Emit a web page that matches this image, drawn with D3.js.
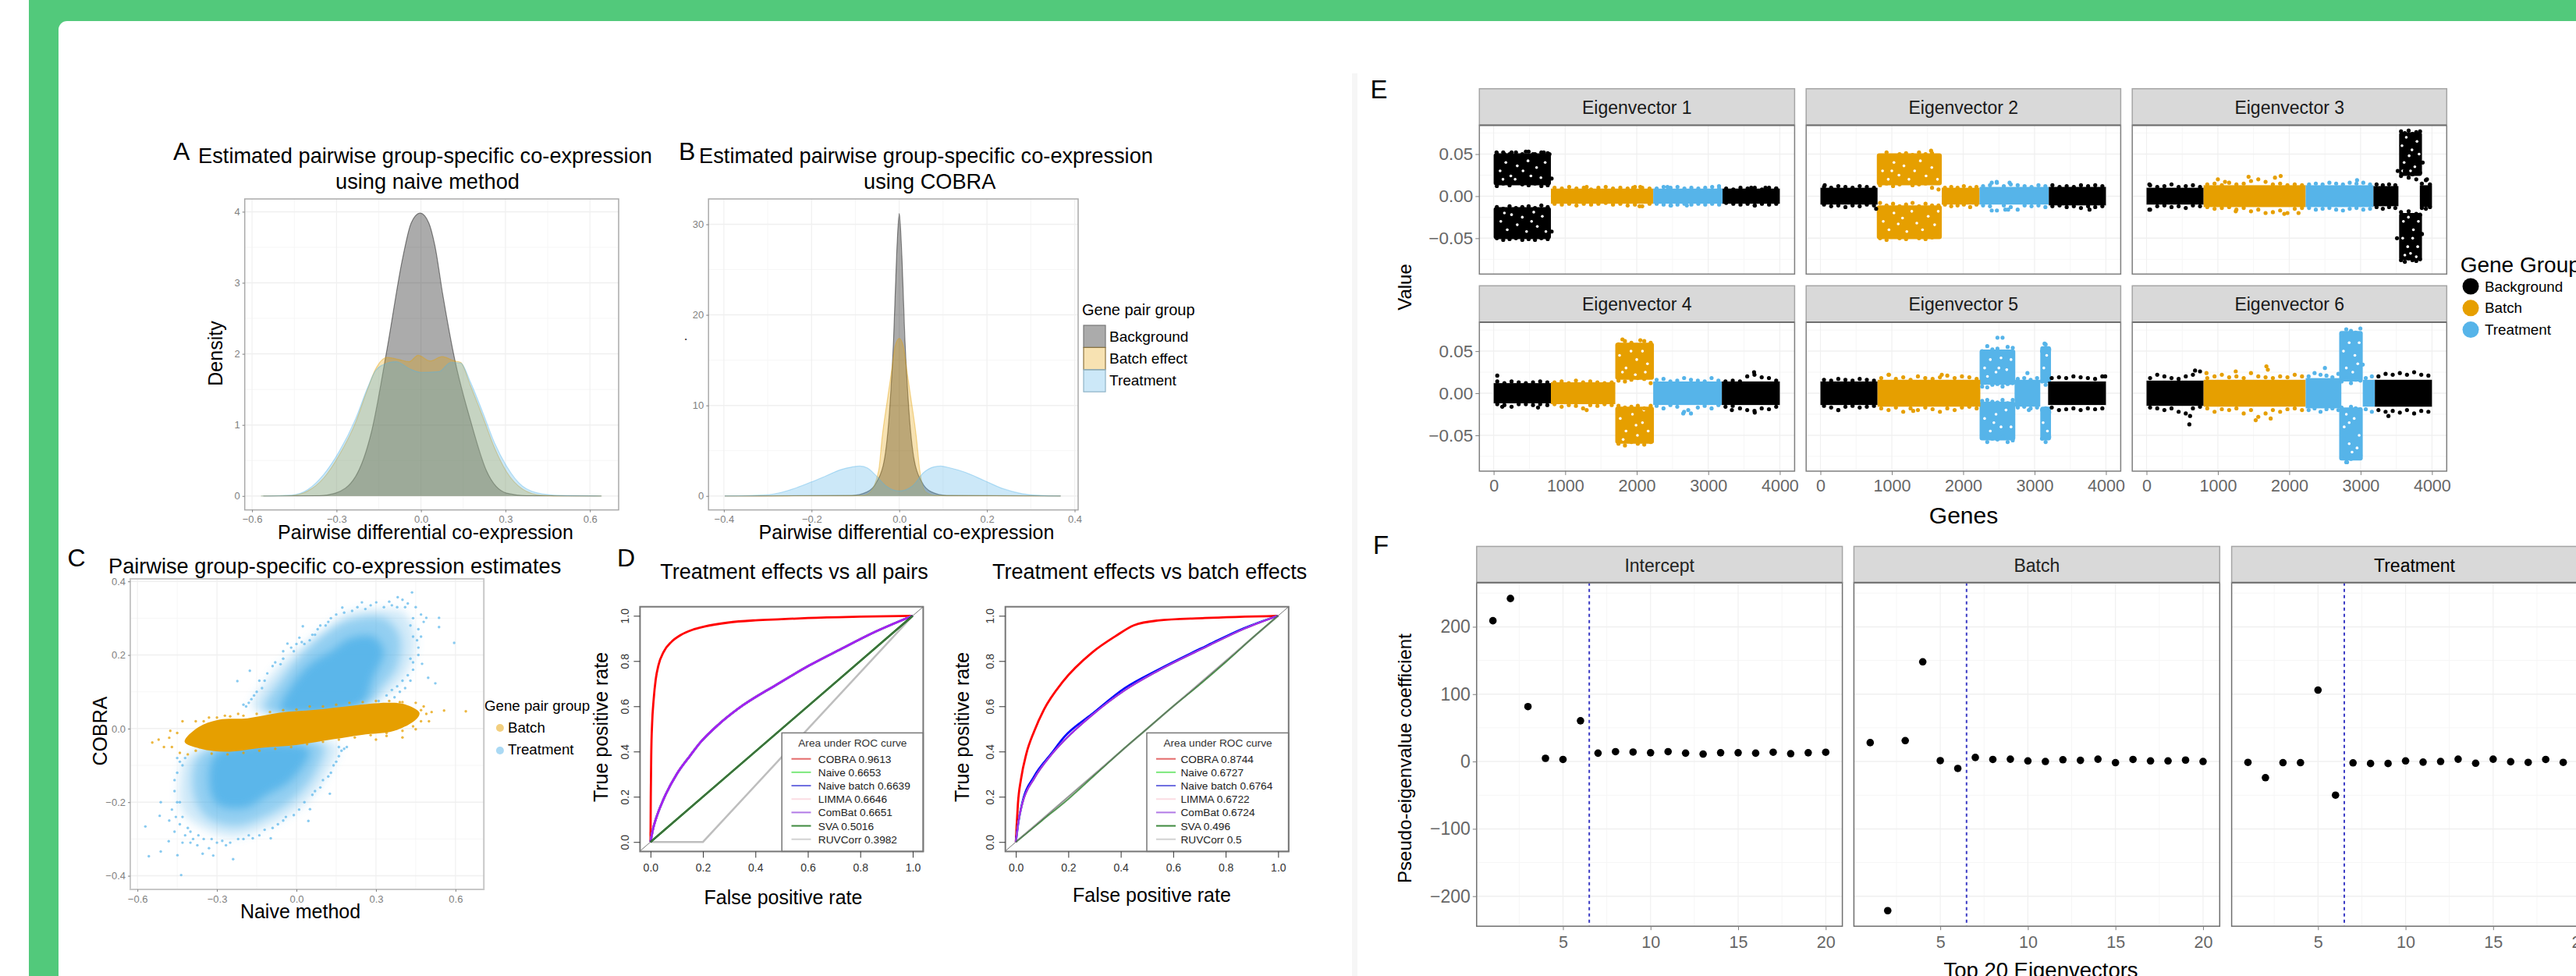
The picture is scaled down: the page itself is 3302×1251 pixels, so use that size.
<!DOCTYPE html>
<html>
<head>
<meta charset="utf-8">
<script src="https://cdn.jsdelivr.net/npm/d3@7"></script>
<style>
  body { margin: 0; background: #fff; overflow: hidden; }
  text { font-family: "Liberation Sans", Arial, sans-serif; }
</style>
</head>
<body>
<div id="chart-area"></div>
<script>
// Group colours
const cBack = "#000000", cBatch = "#E69F00", cTreat = "#56B4E9";

// Panel A: density curves, [difference, density]
const aBackground = [[-.56,0],[-.36,.005],[-.304,.04],[-.233,.27],[-.176,.9],[-.12,2.08],[-.064,3.37],[-.035,3.84],[-.003,3.98],[.028,3.84],[.049,3.53],[.078,2.82],[.12,1.92],[.176,1.06],[.233,.35],[.304,.04],[.374,.005],[.64,0]];
const aBatch = [[-.568,0],[-.459,.008],[-.402,.07],[-.346,.25],[-.29,.58],[-.233,1.03],[-.19,1.5],[-.162,1.78],[-.12,1.95],[-.078,1.92],[-.042,1.89],[-.01,1.98],[.032,1.9],[.075,1.96],[.12,1.9],[.141,1.88],[.176,1.55],[.219,1.12],[.261,.68],[.304,.34],[.36,.1],[.43,.01],[.515,0],[.642,0]];
const aTreatment = [[-.568,0],[-.459,.012],[-.402,.09],[-.346,.3],[-.29,.63],[-.233,1.08],[-.19,1.52],[-.162,1.76],[-.12,1.87],[-.09,1.89],[-.035,1.78],[0,1.74],[.064,1.75],[.106,1.88],[.141,1.87],[.176,1.6],[.219,1.18],[.261,.75],[.304,.42],[.36,.14],[.43,.03],[.515,.003],[.642,0]];

// Panel B
const bBackground = [[-.398,0],[-.108,.06],[-.073,.46],[-.052,1.5],[-.034,4],[-.022,9.5],[-.013,17.2],[-.006,26.5],[0,31.2],[.006,26.5],[.013,17.2],[.022,9.5],[.034,4],[.052,1.5],[.073,.46],[.108,.06],[.368,0]];
const bBatch = [[-.398,0],[-.082,.06],[-.069,.3],[-.047,2.8],[-.039,6.5],[-.026,11],[-.017,14],[-.009,16.6],[0,17.4],[.009,16.6],[.017,14],[.026,11],[.039,6.5],[.047,2.8],[.06,.46],[.082,.06],[.368,0]];
const bTreatment = [[-.398,0],[-.297,.15],[-.254,.6],[-.203,1.5],[-.168,2.2],[-.134,2.9],[-.108,3.2],[-.09,3.3],[-.073,3.1],[-.052,2.2],[-.03,1.1],[0,.55],[.03,1.1],[.056,2.6],[.078,3.2],[.095,3.3],[.116,3.1],[.151,2.6],[.194,1.7],[.237,.8],[.28,.25],[.323,.06],[.368,0]];
const densityLabels = ["Background", "Batch effect", "Treatment"];

// Panel C: outlines of the dense clouds, then the stray points that can be told apart
const cBatchCore = [[-.422,-.036],[-.374,.002],[-.293,.024],[-.185,.028],[-.064,.043],[.072,.051],[.207,.062],[.342,.07],[.409,.066],[.464,.043],[.45,.024],[.369,-.006],[.247,-.017],[.139,-.029],[.004,-.044],[-.131,-.052],[-.266,-.063],[-.361,-.055]];
const cUpperCore = [[-.06,.047],[-.01,.125],[.06,.18],[.13,.21],[.2,.245],[.29,.25],[.33,.21],[.29,.14],[.24,.062]];
const cUpperMid = [[-.12,.05],[-.05,.14],[.03,.21],[.11,.26],[.2,.295],[.33,.3],[.39,.25],[.38,.17],[.32,.11],[.27,.062]];
const cUpperHalo = [[-.165,.055],[-.077,.161],[.004,.214],[.099,.267],[.193,.313],[.328,.324],[.409,.313],[.45,.237],[.423,.161],[.355,.1],[.274,.062]];
const cLowerCore = [[-.3,-.067],[0,-.044],[.05,-.06],[-.02,-.14],[-.11,-.18],[-.19,-.215],[-.3,-.205],[-.33,-.14]];
const cLowerMid = [[-.36,-.067],[.1,-.044],[.07,-.12],[-.01,-.19],[-.12,-.24],[-.23,-.265],[-.34,-.24],[-.39,-.17]];
const cLowerHalo = [[-.401,-.067],[.153,-.044],[.112,-.127],[.031,-.203],[-.104,-.264],[-.239,-.294],[-.347,-.272],[-.428,-.226],[-.442,-.15]];
const cTreatStray = [[.595,.233],[.538,.301],[.538,.276],[.49,.301],[.436,.37],[.382,.357],[.301,.343],[.247,.343],[.173,.329],[.024,.278],[.011,.247],[-.034,.231],[-.176,.157],[-.223,.129],[.524,.123],[.497,.138],[.474,.176],[.48,.29],[.47,.31],[.45,.33],[.42,.34],[.4,.35],[.36,.335],[.33,.33],[.28,.335],[.21,.32],[.15,.31],[.12,.29],[.08,.27],[.05,.24],[.03,.23],[-.01,.21],[-.05,.19],[-.09,.17],[-.12,.13],[-.15,.1],[-.17,.08],[-.19,.06],[.46,.27],[.46,.22],[.46,.2],[.44,.16],[.43,.13],[.41,.11],[.39,.1],[.37,.085],[-.05,.21],[0,.23],[.07,.255],[.13,.3],
  [.44,.3],[.43,.28],[.44,.25],[.455,.24],[.47,.25],[.41,.33],[.38,.33],[.35,.345],[.26,.325],[.23,.33],[.18,.315],[.11,.28],[.09,.28],[.06,.255],[.02,.235],[-.02,.22],[-.06,.175],[-.08,.18],[-.11,.15],[-.13,.11],[-.14,.13],[-.16,.09],[-.18,.07],[-.2,.065],[.43,.19],[.44,.18],[.42,.145],[.4,.13],[.38,.115],[.36,.105],[.34,.09],[.31,.075],
  [-.435,-.398],[-.239,-.355],[-.557,-.347],[-.57,-.266],[-.512,-.334],[-.512,-.2],[-.516,-.237],[-.449,-.344],[-.354,-.34],[-.314,-.345],[-.482,-.306],[.045,-.251],[.126,-.177],[.051,-.219],[-.097,-.298],[-.165,-.298],[-.266,-.317],[-.374,-.317],[-.46,-.28],[-.44,-.26],[-.48,-.25],[-.45,-.2],[-.46,-.17],[-.45,-.12],[-.43,-.1],[-.42,-.29],[-.39,-.3],[-.35,-.3],[-.3,-.31],[-.25,-.31],[-.2,-.3],[-.14,-.29],[-.07,-.26],[-.04,-.24],[.01,-.22],[.06,-.18],[.09,-.16],[.13,-.12],[.15,-.09],[.17,-.06],[.16,-.05],[-.41,-.27],[-.33,-.325],[-.4,-.31],[-.43,-.31],
  [-.47,-.22],[-.455,-.24],[-.46,-.14],[-.44,-.09],[-.42,-.08],[-.45,-.08],[-.44,-.2],[-.43,-.24],[-.4,-.28],[-.37,-.29],[-.32,-.3],[-.28,-.305],[-.22,-.3],[-.18,-.29],[-.12,-.275],[-.09,-.27],[-.05,-.25],[-.01,-.235],[.03,-.2],[.07,-.17],[.1,-.14],[.12,-.13],[.14,-.1],[.16,-.075],[.18,-.055],[.19,-.05]];
const cBatchStray = [[-.544,-.038],[-.52,-.03],[-.5,-.05],[-.476,-.006],[-.48,-.025],[-.47,-.05],[-.45,-.012],[-.44,-.066],[-.43,.02],[-.41,-.07],[-.38,.02],[-.33,.03],[-.27,.035],[-.22,.04],[.639,.047],[.557,.049],[.51,.045],[.5,.02],[.48,.06],[.47,.02],[.45,-.002],[.4,-.024],[.38,0],[.34,-.02],[.3,-.03],[.45,.07],[.39,.072],[.41,.01],[.49,.04],[.47,.05],
  [-.35,.02],[-.3,.03],[-.25,.033],[-.2,.035],[-.15,.04],[-.1,.045],[-.05,.05],[0,.052],[.05,.06],[.1,.06],[.15,.065],[.2,.07],[.25,.072],[.3,.075],[.35,.075],[.4,.072],[-.38,-.06],[-.32,-.068],[-.26,-.07],[-.2,-.066],[-.14,-.06],[-.08,-.055],[-.02,-.05],[.04,-.042],[.1,-.036],[.16,-.03],[.22,-.024],[.28,-.018],[.34,-.012],[.4,-.006],[.44,.006]];
const scatterGroups = ["Batch", "Treatment"];

// Panel D: ROC curves, [false positive rate, true positive rate]
const rocCobraAll = [[0,0],[.001,.2],[.003,.4],[.006,.52],[.012,.63],[.02,.72],[.03,.78],[.05,.84],[.08,.885],[.115,.915],[.16,.938],[.205,.952],[.296,.97],[.4,.98],[.5,.985],[.6,.99],[.8,.996],[1,1]];
const rocMidAll = [[0,0],[.01,.06],[.02,.1],[.05,.19],[.1,.3],[.15,.38],[.19,.44],[.26,.52],[.335,.59],[.48,.695],[.605,.78],[.73,.855],[.84,.92],[1,1]];
const rocRuvAll = [[0,0],[.2,0],[1,1]];
const rocSvaAll = [[0,0],[1,1]];
const rocCobraBatch = [[0,0],[.003,.07],[.008,.17],[.02,.28],[.04,.39],[.07,.49],[.107,.585],[.18,.71],[.29,.837],[.38,.91],[.45,.958],[.54,.979],[.72,.99],[1,1]];
const rocMidBatch = [[0,0],[.01,.09],[.025,.17],[.07,.28],[.135,.385],[.19,.455],[.29,.56],[.415,.67],[.54,.755],[.725,.862],[.87,.942],[1,1]];
const rocBlueBatch = [[0,0],[.01,.09],[.025,.175],[.07,.29],[.135,.39],[.185,.465],[.29,.565],[.415,.68],[.54,.76],[.725,.866],[.87,.945],[1,1]];
const rocSvaBatch = [[0,0],[.1,.095],[.2,.19],[.3,.295],[.4,.4],[.5,.5],[.6,.6],[.7,.695],[.8,.795],[.9,.9],[1,1]];
const rocMethods = ["COBRA", "Naive", "Naive batch", "LIMMA", "ComBat", "SVA", "RUVCorr"];
const aucAll = ["0.9613", "0.6653", "0.6639", "0.6646", "0.6651", "0.5016", "0.3982"];
const aucBatch = ["0.8744", "0.6727", "0.6764", "0.6722", "0.6724", "0.496", "0.5"];

// Panel E: solid runs of genes [from, to, low, high, group], split runs, and single dots [gene, value, group]
const eigenNames = ["Eigenvector 1", "Eigenvector 2", "Eigenvector 3", "Eigenvector 4", "Eigenvector 5", "Eigenvector 6"];
const eigenBands = [
  [[800,2230,-.009,.009,1],[2230,3200,-.009,.009,2],[3200,4000,-.009,.009,0]],
  [[0,800,-.01,.01,0],[1700,2230,-.01,.01,1],[2230,3200,-.01,.011,2],[3200,4000,-.011,.011,0]],
  [[0,800,-.01,.01,0],[800,2230,-.013,.013,1],[2230,3180,-.013,.013,2],[3180,3530,-.012,.012,0],[3830,4000,-.013,.013,0]],
  [[0,800,-.012,.012,0],[800,1700,-.013,.013,1],[2230,3190,-.014,.014,2],[3190,4000,-.014,.014,0]],
  [[0,800,-.014,.014,0],[800,2240,-.016,.016,1],[2720,3080,-.016,.016,2],[3190,4000,-.014,.014,0]],
  [[0,800,-.015,.015,0],[800,2230,-.016,.016,1],[2230,2730,-.018,.018,2],[3030,3200,-.016,.016,2],[3200,4000,-.016,.016,0]]
];
const eigenLobes = [
  [[0,800,.013,.051,0],[0,800,-.051,-.013,0]],
  [[790,1700,.013,.051,1],[790,1700,-.051,-.011,1]],
  [[3540,3860,.024,.076,0],[3540,3860,-.076,-.02,0]],
  [[1700,2240,.016,.06,1],[1700,2240,-.06,-.016,1]],
  [[2230,2730,.01,.052,2],[2230,2730,-.056,-.01,2],[3080,3230,.012,.056,2],[3080,3230,-.056,-.016,2]],
  [[2700,3030,.014,.074,2],[2700,3030,-.08,-.017,2]]
];
// rough upper and lower edges of each run, in thousandths, left to right
const eigenBandEdges = [
  [[[10,9,11,9,10,8,10,11,9,10,9,11,10,9],[-9,-10,-9,-11,-9,-10,-9,-8,-10,-9,-11,-10,-12,-9]],[[9,11,10,11,9,10,9,10,11,9],[-9,-10,-11,-10,-9,-10,-9,-10,-9,-10]],[[9,8,10,9,10,8,10,9],[-8,-9,-10,-9,-11,-9,-10,-9]]],
  [[[11,10,12,11,10,12,11,10],[-10,-12,-11,-13,-11,-12,-10,-11]],[[10,11,10,12,10,11],[-10,-12,-11,-10,-13,-10]],[[12,13,16,12,14,13,12,11,13,12],[-11,-12,-17,-11,-13,-16,-11,-12,-11,-13]],[[13,11,12,11,13,12,13,12],[-12,-11,-13,-12,-14,-12,-13,-12]]],
  [[[13,11,12,14,11,12,13,11],[-16,-12,-11,-13,-12,-14,-11,-12]],[[14,15,13,16,14,15,18,20,17,14,15,13,14,13],[-13,-15,-14,-13,-16,-14,-18,-16,-20,-19,-17,-20,-15,-14]],[[14,15,14,16,15,14,16,15,16,14],[-14,-16,-15,-14,-16,-17,-15,-14,-16,-15]],[[14,13,14,13],[-13,-15,-13,-14]],[[15,19,14],[-14,-15,-13]]],
  [[[14,12,14,13,12,13,14,13],[-13,-14,-16,-13,-13,-14,-13,-14]],[[13,14,12,15,13,14,13,12,13],[-13,-16,-14,-15,-18,-14,-15,-13,-14]],[[16,17,14,15,18,16,15,14,18,15],[-15,-18,-14,-16,-22,-24,-17,-15,-18,-14]],[[14,15,14,20,22,19,18,15],[-16,-15,-18,-20,-21,-18,-19,-16]]],
  [[[16,15,17,16,15,17,16,15],[-15,-17,-20,-16,-15,-17,-16,-15]],[[18,22,17,19,16,20,18,17,19,21,18,20,19,17],[-18,-20,-17,-22,-18,-20,-17,-19,-22,-18,-20,-17,-16,-18]],[[17,18,16,18],[-17,-16,-18,-17]],[[18,19,18,20,19,18,17,20],[-17,-20,-19,-18,-20,-18,-19,-18]]],
  [[[18,22,20,18,17,20,22,26],[-17,-18,-20,-18,-22,-24,-18,-16]],[[18,20,22,19,20,18,24,20,19,18,20,19,22,20],[-18,-22,-19,-20,-18,-24,-20,-28,-24,-20,-22,-19,-18,-20]],[[20,24,22,21,19,23],[-20,-18,-22,-19,-18,-20]],[[18,20],[-19,-22]],[[20,23,22,24,22,25,22,21],[-20,-22,-21,-23,-20,-24,-21,-22]]]
];
const eigenLobeEdges = [
  [[[51,52,50,52,49,53,50,52,51],[12,15,13,16,14,13,15,12,13]],[[-13,-15,-12,-14,-13,-12,-14,-11,-13],[-50,-52,-51,-50,-52,-51,-52,-50,-51]]],
  [[[48,52,47,50,51,49,52,50,51,48],[13,15,12,14,16,13,14,15,10,8]],[[-8,-11,-9,-12,-10,-8,-12,-9,-11,-11],[-50,-52,-48,-50,-51,-48,-50,-51,-49,-48]]],
  [[[77,75,78,74,76,77],[24,30,22,26,20,28]],[[-19,-24,-18,-26,-21,-22],[-76,-78,-74,-76,-77,-75]]],
  [[[58,62,60,57,62,60],[15,14,16,18,17,12]],[[-15,-17,-16,-15,-18,-15],[-60,-62,-58,-60,-61,-58]]],
  [[[50,56,52,53,66,55,54],[8,7,10,11,8,11,12]],[[-9,-8,-10,-11,-8,-12,-8],[-52,-58,-54,-55,-52,-58,-56]],[[50,58,52],[14,10,16]],[[-20,-18,-23],[-54,-58,-52]]],
  [[[70,76,74,72,77],[14,18,12,16,15]],[[-17,-20,-16,-18,-19],[-76,-82,-78,-76,-74]]]
];
// small empty spots inside the split runs, [gene, value]
const eigenGaps = [
  [[90,.03],[170,.04],[240,.024],[330,.036],[300,.02],[410,.03],[480,.042],[520,.024],[600,.034],[660,.022],[720,.04],[130,.02],[100,-.03],[190,-.04],[250,-.022],[330,-.034],[400,-.025],[460,-.042],[530,-.03],[610,-.036],[680,-.024],[730,-.042],[150,-.02],[560,-.019]],
  [[870,.03],[950,.02],[1030,.04],[1100,.025],[1170,.036],[1240,.02],[1320,.03],[1400,.042],[1480,.024],[1560,.034],[1640,.02],[1000,.03],[880,-.03],[960,-.04],[1030,-.02],[1090,-.033],[1150,-.026],[1210,-.042],[1280,-.018],[1350,-.032],[1430,-.04],[1510,-.024],[1600,-.034],[1650,-.018]],
  [[3580,.06],[3640,.07],[3720,.055],[3790,.065],[3610,.04],[3680,.048],[3760,.035],[3820,.05],[3590,.03],[3700,.03],[3600,-.03],[3670,-.025],[3740,-.04],[3810,-.03],[3590,-.05],[3660,-.06],[3730,-.05],[3800,-.06],[3620,-.07],[3700,-.068],[3780,-.072]],
  [[1760,.045],[1850,.03],[1920,.05],[2000,.04],[2080,.05],[2150,.035],[1800,.025],[1980,.022],[2120,.025],[1770,-.03],[1850,-.045],[1940,-.025],[2010,-.05],[2080,-.035],[2160,-.045],[1810,-.055],[2100,-.02],[1990,-.038]],
  [[2300,.03],[2380,.04],[2460,.025],[2530,.042],[2610,.028],[2670,.04],[2500,.03],[2340,.02],[2300,-.03],[2380,-.045],[2460,-.025],[2530,-.04],[2600,-.02],[2670,-.04],[2430,-.035],[3130,.03],[3170,.045],[3120,-.035],[3180,-.045]],
  [[2760,.05],[2840,.06],[2920,.045],[2980,.06],[2800,.03],[2890,.025],[2960,.035],[2770,-.04],[2840,-.06],[2910,-.03],[2980,-.05],[2800,-.025],[2880,-.07],[2950,-.065],[2840,-.035]]
];
const eigenDots = [
  [[40,.052,0],[150,.05,0],[250,.052,0],[400,.05,0],[450,.053,0],[550,.05,0],[700,.052,0],[780,.05,0],[810,.021,0],[810,-.042,0],[1300,.011,1],[1950,.01,1],[2050,.011,1],[2040,-.012,1],[2430,.011,2],[2700,-.011,2],[3150,.012,2],[2480,-.011,2],[3600,.01,0],[3650,-.011,0],[3800,.01,0],[3950,.009,0]],
  [[60,.013,0],[780,-.015,0],[1550,.054,1],[1650,.048,1],[2400,.016,2],[2470,.017,2],[2650,.016,2],[2400,-.017,2],[2630,-.016,2],[2590,-.016,2],[3770,-.016,0]],
  [[40,.014,0],[40,-.016,0],[1000,.02,1],[1100,.017,1],[1430,.023,1],[1800,.022,1],[1880,.024,1],[1250,-.018,1],[1930,-.021,1],[2130,-.02,1],[2950,.019,2],[3930,.02,0],[3870,.04,0],[3520,.03,0],[3510,-.05,0],[3860,-.045,0]],
  [[50,.021,0],[120,-.016,0],[620,-.017,0],[1300,-.02,1],[1800,.064,1],[2050,.063,1],[2650,-.024,2],[2720,-.02,2],[3330,-.02,0],[3640,.025,0],[3650,-.023,0]],
  [[250,-.02,0],[960,.022,1],[1700,.022,1],[1300,-.021,1],[2480,.066,2],[3140,.059,2],[2900,.024,2],[2920,-.02,2],[3990,.02,0]],
  [[680,.027,0],[600,-.037,0],[610,-.027,0],[840,.024,1],[1250,.026,1],[1680,.032,1],[1700,.028,1],[1530,-.032,1],[1740,-.03,1],[2500,.03,2],[3030,.034,2],[2810,-.082,2],[3390,-.027,0]]
];
const geneGroups = ["Background", "Batch", "Treatment"];

// Panel F: pseudo-eigenvalue coefficients for the top 20 eigenvectors
const fIndex = [1,2,3,4,5,6,7,8,9,10,11,12,13,14,15,16,17,18,19,20];
const fIntercept = [209,242,81.5,4.7,3,60.5,12.4,14.6,14,13,14.6,12.4,11,13,13,12.4,13.7,11.6,13,13.7];
const fBatch = [28,-221.5,31,148,1.3,-10.3,6,3,3.4,.9,0,2.6,1.7,3.4,-1.7,3,.9,.9,2.1,0];
const fTreatment = [-1.3,-24,-1.7,-1.7,106,-50,-2,-3,-3,.9,-.9,0,3.4,-2.6,3.4,-.4,-1.3,3,-1.3,0];
const fNames = ["Intercept", "Batch", "Treatment"];
const fCut = 6.5;

const svg = d3.select("#chart-area").append("svg")
  .attr("width", 3302)
  .attr("height", 1251)
  .style("display", "block");

// soft edge for the scatter clouds
svg.append("defs").append("filter").attr("id", "soft")
  .attr("x", "-20%").attr("y", "-20%").attr("width", "140%").attr("height", "140%")
  .append("feGaussianBlur").attr("stdDeviation", 6);

// Page behind the figure
svg.append("rect").attr("width", 3302).attr("height", 1251).attr("fill", "#fff");
svg.append("rect").attr("x", 37).attr("width", 3265).attr("height", 1251).attr("fill", "#52C97B");
svg.append("rect").attr("x", 75).attr("y", 27).attr("width", 3300).attr("height", 1300).attr("rx", 11).attr("fill", "#fff");
svg.append("rect").attr("x", 1733).attr("y", 94).attr("width", 7).attr("height", 1157).attr("fill", "#f6f6f6");

let clipCount = 0;

function label(x, y, s, size, opts) {
  opts = opts || {};
  let t = svg.append("text")
    .attr("x", x)
    .attr("y", y)
    .attr("font-size", size)
    .attr("fill", opts.fill || "#000")
    .attr("text-anchor", opts.anchor || "start")
    .text(s);
  if (opts.rotate) t.attr("transform", "rotate(-90," + x + "," + y + ")").attr("text-anchor", "middle");
  return t;
}

// ggplot style panel: grid, frame and axes, returns scales and a clipped group
function panel(box, xDomain, yDomain, xTicks, yTicks, opts) {
  let x = d3.scaleLinear().domain(xDomain).range([box.left, box.right]);
  let y = d3.scaleLinear().domain(yDomain).range([box.bottom, box.top]);
  let g = svg.append("g");
  let tickCol = opts.tickCol || "#7f7f7f";

  let mid = t => t.slice(1).map((d, i) => (d + t[i]) / 2);
  let xMinor = mid(xTicks), yMinor = mid(yTicks);
  if (opts.extraY) yMinor = yMinor.concat(opts.extraY);
  if (opts.extraX) xMinor = xMinor.concat(opts.extraX);

  g.selectAll(".vminor").data(xMinor).enter().append("line")
    .attr("x1", d => x(d)).attr("x2", d => x(d)).attr("y1", box.top).attr("y2", box.bottom)
    .attr("stroke", "#f6f6f6").attr("stroke-width", 1);
  g.selectAll(".hminor").data(yMinor).enter().append("line")
    .attr("x1", box.left).attr("x2", box.right).attr("y1", d => y(d)).attr("y2", d => y(d))
    .attr("stroke", "#f6f6f6").attr("stroke-width", 1);
  g.selectAll(".vmajor").data(xTicks).enter().append("line")
    .attr("x1", d => x(d)).attr("x2", d => x(d)).attr("y1", box.top).attr("y2", box.bottom)
    .attr("stroke", "#f0f0f0").attr("stroke-width", 1.2);
  g.selectAll(".hmajor").data(yTicks).enter().append("line")
    .attr("x1", box.left).attr("x2", box.right).attr("y1", d => y(d)).attr("y2", d => y(d))
    .attr("stroke", "#f0f0f0").attr("stroke-width", 1.5);

  clipCount++;
  svg.append("clipPath").attr("id", "clip" + clipCount).append("rect")
    .attr("x", box.left).attr("y", box.top)
    .attr("width", box.right - box.left).attr("height", box.bottom - box.top);
  let marks = svg.append("g").attr("clip-path", "url(#clip" + clipCount + ")");

  // axes are added after the marks by finish()
  let finish = () => {
    svg.append("rect")
      .attr("x", box.left).attr("y", box.top)
      .attr("width", box.right - box.left).attr("height", box.bottom - box.top)
      .attr("fill", "none").attr("stroke", opts.frame || "#aaaaaa").attr("stroke-width", opts.frameWidth || 1.5);

    if (!opts.noX) {
      let xAxis = d3.axisBottom(x).tickValues(xTicks).tickSize(opts.tick || 3).tickPadding(opts.xPad || 4).tickFormat(opts.xFormat);
      let gx = svg.append("g").attr("transform", "translate(0," + box.bottom + ")").call(xAxis);
      gx.select(".domain").remove();
      gx.selectAll("line").attr("stroke", "#7f7f7f");
      gx.selectAll("text").attr("fill", tickCol).attr("font-size", opts.xSize || 13).style("font-family", "Liberation Sans");
    }

    if (opts.noY) return;
    let yAxis = d3.axisLeft(y).tickValues(yTicks).tickSize(opts.tick || 3).tickPadding(opts.yPad || 3).tickFormat(opts.yFormat);
    let gy = svg.append("g").attr("transform", "translate(" + box.left + ",0)").call(yAxis);
    gy.select(".domain").remove();
    gy.selectAll("line").attr("stroke", "#7f7f7f");
    gy.selectAll("text").attr("fill", tickCol).attr("font-size", opts.ySize || 13).style("font-family", "Liberation Sans");
  };
  return { x, y, marks, finish };
}

function densityChart(p, series) {
  const cols = [cBack, cBatch, cTreat];
  const fills = [0.33, 0.3, 0.3];
  series.forEach((s, i) => {
    let area = d3.area().x(d => p.x(d[0])).y0(p.y(0)).y1(d => p.y(d[1])).curve(d3.curveMonotoneX);
    let line = d3.line().x(d => p.x(d[0])).y(d => p.y(d[1])).curve(d3.curveMonotoneX);
    p.marks.append("path").datum(s).attr("d", area).attr("fill", cols[i]).attr("fill-opacity", fills[i]);
    p.marks.append("path").datum(s).attr("d", line).attr("fill", "none")
      .attr("stroke", cols[i]).attr("stroke-opacity", i === 0 ? 0.45 : 0.4).attr("stroke-width", 1.2);
  });
  p.finish();
}

// ---- Panel A
label(222, 205, "A", 32);
label(545, 209, "Estimated pairwise group-specific co-expression", 27.2, { anchor: "middle" });
label(548, 242, "using naive method", 27.2, { anchor: "middle" });
label(284.6, 453, "Density", 25, { rotate: true });
label(545.5, 691, "Pairwise differential co-expression", 25, { anchor: "middle" });
densityChart(
  panel({ left: 313.7, right: 793, top: 255, bottom: 653.6 }, [-.626, .702], [-.196, 4.18], [-.6, -.3, 0, .3, .6], [0, 1, 2, 3, 4], { xFormat: d3.format(".1f"), yFormat: d3.format("d") }),
  [aBackground, aBatch, aTreatment]);

// ---- Panel B
label(870, 205, "B", 32);
label(1187, 209, "Estimated pairwise group-specific co-expression", 27.2, { anchor: "middle" });
label(1191.7, 242, "using COBRA", 27.2, { anchor: "middle" });
label(880, 435, ".", 16, { rotate: true });
label(1162, 691, "Pairwise differential co-expression", 25, { anchor: "middle" });
densityChart(
  panel({ left: 908.2, right: 1382, top: 255, bottom: 653.6 }, [-.435, .408], [-1.54, 32.8], [-.4, -.2, 0, .2, .4], [0, 10, 20, 30], { xFormat: d3.format(".1f"), yFormat: d3.format("d") }),
  [bBackground, bBatch, bTreatment]);

// legend for the density panels
label(1387, 404, "Gene pair group", 20);
densityLabels.forEach((d, i) => {
  svg.append("rect")
    .attr("x", 1389).attr("y", 417 + i * 28.4).attr("width", 28).attr("height", 28.4)
    .attr("fill", [cBack, cBatch, cTreat][i]).attr("fill-opacity", [0.33, 0.3, 0.3][i])
    .attr("stroke", ["#777", "#8c7440", "#8fb3c7"][i]).attr("stroke-width", 1.2);
  label(1422, 437.5 + i * 28, d, 19);
});

// ---- Panel C
label(86.6, 726, "C", 32);
label(139, 734.7, "Pairwise group-specific co-expression estimates", 27.2);
label(137, 937, "COBRA", 25, { rotate: true });
label(385, 1176.6, "Naive method", 25, { anchor: "middle" });
let pc = panel({ left: 167, right: 620.2, top: 741.9, bottom: 1140 }, [-.627, .707], [-.437, .407], [-.6, -.3, 0, .3, .6], [-.4, -.2, 0, .2, .4], { xFormat: d3.format(".1f"), yFormat: d3.format(".1f"), xPad: 5, frame: "#c8c8c8", frameWidth: 2 });
let cloud = d3.line().x(d => pc.x(d[0])).y(d => pc.y(d[1])).curve(d3.curveCatmullRomClosed);
let soft = pc.marks.append("g").attr("filter", "url(#soft)");
[[cUpperHalo, 0.28], [cLowerHalo, 0.28], [cUpperMid, 0.5], [cLowerMid, 0.5], [cUpperCore, 0.95], [cLowerCore, 0.95]].forEach(c => {
  soft.append("path").datum(c[0]).attr("d", cloud).attr("fill", cTreat).attr("fill-opacity", c[1]);
});
pc.marks.selectAll(".stray-t").data(cTreatStray).enter().append("circle")
  .attr("cx", d => pc.x(d[0])).attr("cy", d => pc.y(d[1])).attr("r", 1.7)
  .attr("fill", cTreat).attr("fill-opacity", 0.7);
pc.marks.append("path").datum(cBatchCore).attr("d", cloud).attr("fill", cBatch);
pc.marks.selectAll(".stray-b").data(cBatchStray).enter().append("circle")
  .attr("cx", d => pc.x(d[0])).attr("cy", d => pc.y(d[1])).attr("r", 1.7)
  .attr("fill", cBatch).attr("fill-opacity", 0.75);
pc.finish();
label(621, 911, "Gene pair group", 18.7);
scatterGroups.forEach((d, i) => {
  svg.append("circle").attr("cx", 640.9).attr("cy", 933 + i * 29).attr("r", 5)
    .attr("fill", i === 0 ? cBatch : cTreat).attr("fill-opacity", 0.5);
  label(651, 938.7 + i * 27.9, d, 18.7);
});

// ---- Panel D
const rocColors = ["#ff0000", "#00ff00", "#0000ff", "#ffc0cb", "#a020f0", "#006400", "#bebebe"];
const legendColors = ["#e46a6a", "#7ce87c", "#6e6ee0", "#fbdde3", "#b27ae6", "#3f8a3f", "#d2d2d2"];

function rocChart(box, boxLegend, curves, auc) {
  let x = d3.scaleLinear().domain([-.04, 1.04]).range([box.left, box.right]);
  let y = d3.scaleLinear().domain([-.042, 1.04]).range([box.bottom, box.top]);
  let line = d3.line().x(d => x(d[0])).y(d => y(d[1]));
  clipCount++;
  svg.append("clipPath").attr("id", "clip" + clipCount).append("rect")
    .attr("x", box.left).attr("y", box.top)
    .attr("width", box.right - box.left).attr("height", box.bottom - box.top);
  let g = svg.append("g").attr("clip-path", "url(#clip" + clipCount + ")");

  curves.forEach(c => {
    g.append("path").datum(c.data)
      .attr("d", line.curve(c.data.length > 3 ? d3.curveMonotoneX : d3.curveLinear))
      .attr("fill", "none").attr("stroke", rocColors[c.method]).attr("stroke-width", c.width || 2.8)
      .attr("stroke-opacity", c.opacity || 1);
  });
  // reference diagonal across the frame
  g.append("path").datum([[-.04, -.04], [1.04, 1.04]]).attr("d", line.curve(d3.curveLinear))
    .attr("fill", "none").attr("stroke", "#777").attr("stroke-width", 1);

  // legend sits on top of the curves
  svg.append("rect")
    .attr("x", boxLegend.left).attr("y", boxLegend.top)
    .attr("width", box.right - boxLegend.left).attr("height", box.bottom - boxLegend.top)
    .attr("fill", "#fff").attr("stroke", "#777").attr("stroke-width", 1.5);
  label(boxLegend.titleX, 956.6, "Area under ROC curve", 13.7, { anchor: "middle", fill: "#333" });
  rocMethods.forEach((m, i) => {
    let rowY = 972.7 + i * 17.17;
    svg.append("line")
      .attr("x1", boxLegend.lineX).attr("x2", boxLegend.lineX + 25)
      .attr("y1", rowY).attr("y2", rowY)
      .attr("stroke", legendColors[i]).attr("stroke-width", 2);
    label(boxLegend.textX, rowY + 5, m + " " + auc[i], 13.7, { fill: "#222" });
  });

  svg.append("rect")
    .attr("x", box.left).attr("y", box.top)
    .attr("width", box.right - box.left).attr("height", box.bottom - box.top)
    .attr("fill", "none").attr("stroke", "#777").attr("stroke-width", 2);

  let ticks = [0, .2, .4, .6, .8, 1];
  let gx = svg.append("g").attr("transform", "translate(0," + box.bottom + ")")
    .call(d3.axisBottom(x).tickValues(ticks).tickSize(8).tickPadding(8).tickFormat(d3.format(".1f")));
  gx.select(".domain").remove();
  gx.selectAll("line").attr("stroke", "#333");
  gx.selectAll("text").attr("fill", "#333").attr("font-size", 14).style("font-family", "Liberation Sans");

  let gy = svg.append("g").attr("transform", "translate(" + box.left + ",0)")
    .call(d3.axisLeft(y).tickValues(ticks).tickSize(8).tickFormat(d3.format(".1f")));
  gy.select(".domain").remove();
  gy.selectAll("line").attr("stroke", "#333");
  gy.selectAll("text").attr("fill", "#333").attr("font-size", 14).style("font-family", "Liberation Sans")
    .attr("text-anchor", "middle").attr("dy", 0).attr("x", -18)
    .attr("transform", "rotate(-90,-18,0)").attr("dominant-baseline", "middle");
}

label(791, 726, "D", 32);
label(1018, 742, "Treatment effects vs all pairs", 27, { anchor: "middle" });
label(1473.6, 742, "Treatment effects vs batch effects", 27, { anchor: "middle" });
rocChart({ left: 820.4, right: 1183.4, top: 777.7, bottom: 1091.4 }, { left: 1002.2, top: 939.4, titleX: 1092.8, lineX: 1014.5, textX: 1048.8 }, [
  { method: 6, data: rocRuvAll, width: 2.5 },
  { method: 0, data: rocCobraAll },
  { method: 1, data: rocMidAll },
  { method: 2, data: rocMidAll },
  { method: 3, data: rocMidAll },
  { method: 4, data: rocMidAll },
  { method: 5, data: rocSvaAll, width: 2.5 }
], aucAll);
rocChart({ left: 1288.7, right: 1651.8, top: 777.7, bottom: 1091.4 }, { left: 1470, top: 939.4, titleX: 1561, lineX: 1482, textX: 1513.4 }, [
  { method: 6, data: rocSvaAll, width: 2.5 },
  { method: 0, data: rocCobraBatch },
  { method: 2, data: rocBlueBatch },
  { method: 1, data: rocMidBatch, width: 2 },
  { method: 3, data: rocMidBatch, width: 2 },
  { method: 4, data: rocMidBatch, width: 2 },
  { method: 5, data: rocSvaBatch, width: 2, opacity: 0.65 }
], aucBatch);
label(1004, 1158.7, "False positive rate", 25, { anchor: "middle" });
label(1476.4, 1156.2, "False positive rate", 25, { anchor: "middle" });
label(779.4, 932, "True positive rate", 25, { rotate: true });
label(1241.6, 932, "True positive rate", 25, { rotate: true });

// ---- Panel E
const eigenCols = [[1896.3, 2300.4], [2315.2, 2718.4], [2733.2, 3136.3]];
const eigenRows = [[160.4, 351.3, 113.7], [413, 603.9, 366.3]];
const groupCols = [cBack, cBatch, cTreat];

function strip(left, right, top, bottom, name, baseline, fill) {
  svg.append("rect").attr("x", left).attr("y", top).attr("width", right - left).attr("height", bottom - top)
    .attr("fill", "#d9d9d9").attr("stroke", "#a5a5a5").attr("stroke-width", 1.5);
  svg.append("line").attr("x1", left).attr("x2", right).attr("y1", bottom).attr("y2", bottom)
    .attr("stroke", "#6f6f6f").attr("stroke-width", 2);
  label((left + right) / 2, baseline, name, 23, { anchor: "middle", fill: fill || "#1a1a1a" });
}

// turns the edge lists of a run into dots spaced evenly along the run
function edgeDots(runs, edges) {
  let out = [];
  runs.forEach((r, j) => {
    edges[j].forEach(list => {
      list.forEach((v, k) => {
        out.push([r[0] + (r[1] - r[0]) * (k + 0.5) / list.length, v / 1000, r[4]]);
      });
    });
  });
  return out;
}

eigenNames.forEach((name, i) => {
  let col = eigenCols[i % 3], row = eigenRows[Math.floor(i / 3)];
  let p = panel({ left: col[0], right: col[1], top: row[0], bottom: row[1] }, [-200, 4207], [-.0926, .0844],
    [0, 1000, 2000, 3000, 4000], [-.05, 0, .05],
    { xFormat: d3.format("d"), yFormat: d => d === 0 ? "0.00" : d3.format(".2f")(d), xSize: 21.5, ySize: 22.5, frame: "#7f7f7f", frameWidth: 1.5, tick: 5, xPad: 6, tickCol: "#666", extraY: [-.075, .075], noY: i % 3 !== 0, noX: i < 3 });
  p.marks.append("g").selectAll("rect").data(eigenLobes[i]).enter().append("rect")
    .attr("x", d => p.x(d[0]))
    .attr("width", d => p.x(d[1]) - p.x(d[0]))
    .attr("y", d => p.y(d[3]))
    .attr("height", d => p.y(d[2]) - p.y(d[3]))
    .attr("rx", 3)
    .attr("fill", d => groupCols[d[4]]);
  p.marks.append("g").selectAll("circle").data(eigenGaps[i]).enter().append("circle")
    .attr("cx", d => p.x(d[0]))
    .attr("cy", d => p.y(d[1]))
    .attr("r", 1.8)
    .attr("fill", "#fff");
  p.marks.append("g").selectAll("rect").data(eigenBands[i]).enter().append("rect")
    .attr("x", d => p.x(d[0]))
    .attr("width", d => p.x(d[1]) - p.x(d[0]))
    .attr("y", d => p.y(d[3]))
    .attr("height", d => p.y(d[2]) - p.y(d[3]))
    .attr("fill", d => groupCols[d[4]]);
  let dots = eigenDots[i]
    .concat(edgeDots(eigenLobes[i], eigenLobeEdges[i]))
    .concat(edgeDots(eigenBands[i], eigenBandEdges[i]));
  p.marks.append("g").selectAll("circle").data(dots).enter().append("circle")
    .attr("cx", d => p.x(d[0]))
    .attr("cy", d => p.y(d[1]))
    .attr("r", 2.6)
    .attr("fill", d => groupCols[d[2]]);
  p.finish();
  strip(col[0], col[1], row[2], row[0], name, row[2] + 32);
});
label(1756.5, 126, "E", 33);
label(1809, 368, "Value", 24, { rotate: true });
label(2517, 671, "Genes", 30, { anchor: "middle" });
label(3153.7, 349, "Gene Group", 28);
geneGroups.forEach((d, i) => {
  svg.append("circle").attr("cx", 3167).attr("cy", 367 + i * 27.8).attr("r", 10.5).attr("fill", groupCols[i]);
  label(3185, 373.5 + i * 27.8, d, 18.8);
});

// ---- Panel F
const fBoxes = [[1892.8, 2361.6], [2376.4, 2845.3], [2860.6, 3329.4]];
[fIntercept, fBatch, fTreatment].forEach((vals, i) => {
  let box = { left: fBoxes[i][0], right: fBoxes[i][1], top: 746.7, bottom: 1187.2 };
  let p = panel(box, [.07, 20.95], [-244.6, 265.7], [5, 10, 15, 20], [-200, -100, 0, 100, 200],
    { xFormat: d3.format("d"), yFormat: d3.format("d"), xSize: 21.5, ySize: 23, frame: "#6f6f6f", frameWidth: 1.5, tick: 5, xPad: 8, tickCol: "#666", extraX: [2.5], extraY: [250], noY: i !== 0 });
  p.marks.append("g").selectAll("circle").data(fIndex).enter().append("circle")
    .attr("cx", d => p.x(d))
    .attr("cy", (d, j) => p.y(vals[j]))
    .attr("r", 4.8)
    .attr("fill", "#000");
  p.marks.append("line")
    .attr("x1", p.x(fCut)).attr("x2", p.x(fCut))
    .attr("y1", box.top).attr("y2", box.bottom)
    .attr("stroke", "#3a3ac4").attr("stroke-width", 2).attr("stroke-dasharray", "4,4");
  p.finish();
  strip(box.left, box.right, 700.4, 746.7, fNames[i], 733, i === 2 ? "#000" : "#222");
});
label(1760, 710, "F", 33);
label(1809, 972, "Pseudo-eigenvalue coefficient", 24, { rotate: true });
label(2616, 1253, "Top 20 Eigenvectors", 27.5, { anchor: "middle" });
</script>
</body>
</html>
